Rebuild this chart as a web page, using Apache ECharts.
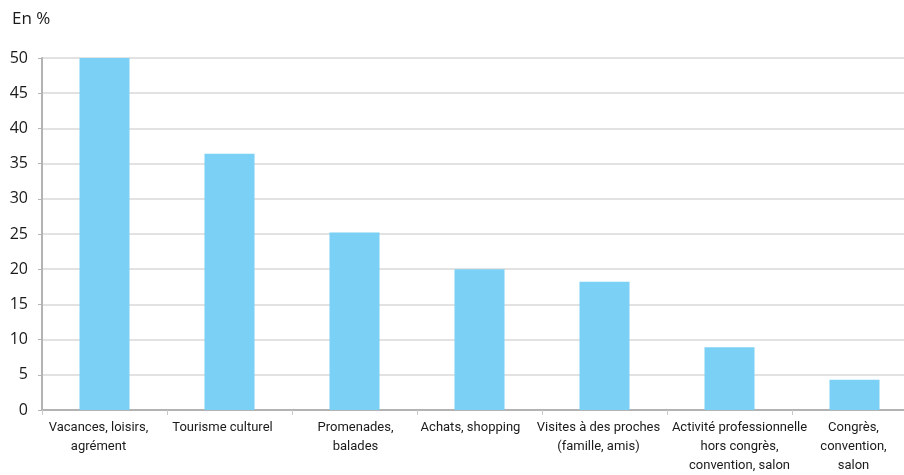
<!DOCTYPE html>
<html><head><meta charset="utf-8">
<script src="https://cdn.jsdelivr.net/npm/echarts@6/dist/echarts.min.js"></script>
<style>html,body{margin:0;padding:0;background:#fff;overflow:hidden}#c{width:918px;height:475px}</style>
</head><body><div id="c"></div>
<script>
const categories = [
  "Vacances, loisirs,\nagrément",
  "Tourisme culturel",
  "Promenades,\nbalades",
  "Achats, shopping",
  "Visites à des proches\n(famille, amis)",
  "Activité professionnelle\nhors congrès,\nconvention, salon",
  "Congrès,\nconvention,\nsalon"
];
const values = [50, 36.4, 25.2, 20, 18.2, 8.9, 4.3];
const yTicks = { min: 0, max: 50, interval: 5 };
const unitLabel = "En %";

// label horizontal nudges (style only), in px
const labelNudge = [-6, -7, 1, -9, -6, 10, -1];

const font = "'Open Sans', 'Noto Sans', sans-serif";
const xFont = "Roboto, 'Open Sans', sans-serif";
const catData = categories.map((c, i) => {
  const s = labelNudge[i];
  return {value: c, textStyle: {padding: s < 0 ? [0, -2 * s, 0, 0] : [0, 0, 0, 2 * s]}};
});
const chart = echarts.init(document.getElementById('c'), null, {renderer: 'canvas'});
chart.setOption({
  animation: false,
  backgroundColor: '#fff',
  graphic: [{type: 'text', left: 12, top: 11, style: {text: unitLabel, fontFamily: font, fontSize: 17, fill: '#1a1a1a'}}],
  grid: {left: 42, top: 58, right: 1, bottom: 63, containLabel: false},
  xAxis: {
    type: 'category', data: catData,
    axisLine: {lineStyle: {color: '#b3b3b3', width: 2}},
    axisTick: {show: true, length: 5, lineStyle: {color: '#c8c8c8'}},
    axisLabel: {fontFamily: xFont, fontSize: 13, color: '#1a1a1a', lineHeight: 19, margin: 8, interval: 0}
  },
  yAxis: {
    type: 'value', min: yTicks.min, max: yTicks.max, interval: yTicks.interval,
    axisLine: {show: true, lineStyle: {color: '#b3b3b3', width: 2}},
    axisTick: {show: true, length: 4, lineStyle: {color: '#b3b3b3'}},
    splitLine: {lineStyle: {color: '#d9d9d9', width: 1.5}},
    axisLabel: {fontFamily: font, fontSize: 16, color: '#1a1a1a', margin: 14}
  },
  series: [{type: 'bar', data: values, barWidth: 50, itemStyle: {color: '#7ad0f5'}}]
});
</script></body></html>
